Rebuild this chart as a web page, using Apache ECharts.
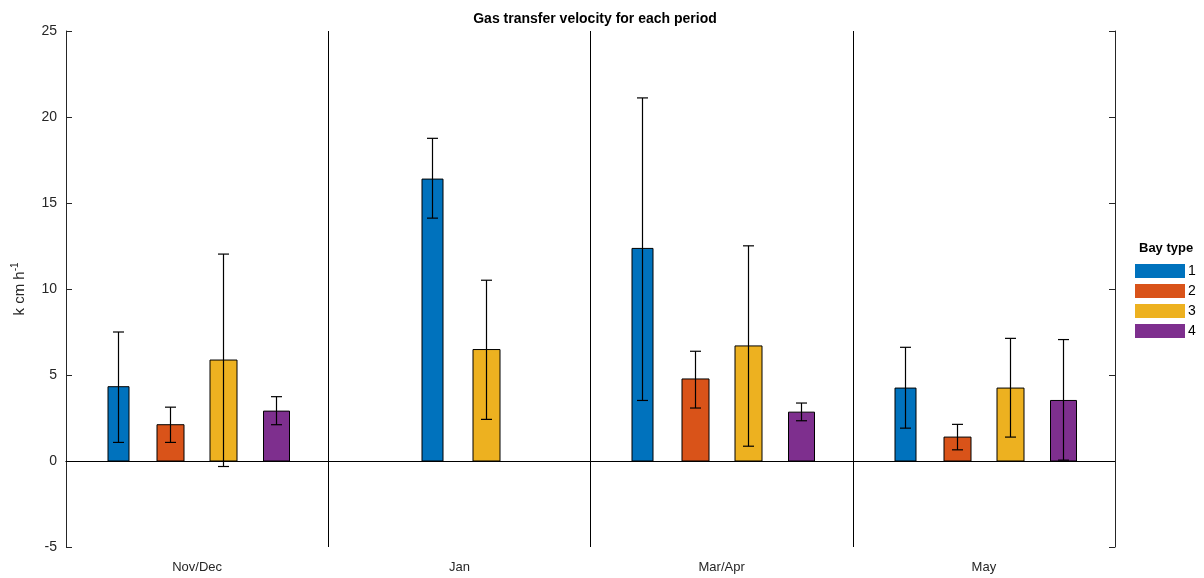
<!DOCTYPE html>
<html>
<head>
<meta charset="utf-8">
<script src="https://cdn.jsdelivr.net/npm/echarts@6/dist/echarts.min.js"></script>
<style>
  html, body { margin: 0; padding: 0; background: #fff; }
  #chart { width: 1204px; height: 578px; }
</style>
</head>
<body>
<div id="chart"></div>
<script>
// periods on the x axis
const periods = ['Nov/Dec', 'Jan', 'Mar/Apr', 'May']
const bayTypes = ['1', '2', '3', '4']

// mean k per bay type, one entry per period (null = no data)
const bay1 = [4.32, 16.39, 12.36, 4.24]
const bay2 = [2.11, null, 4.77, 1.39]
const bay3 = [5.87, 6.48, 6.69, 4.24]
const bay4 = [2.90, null, 2.84, 3.52]

// error bar bounds (lower / upper)
const bay1Low = [1.08, 14.12, 3.52, 1.91]
const bay1High = [7.50, 18.76, 21.11, 6.61]
const bay2Low = [1.08, null, 3.08, 0.65]
const bay2High = [3.13, null, 6.38, 2.13]
const bay3Low = [-0.32, 2.42, 0.86, 1.39]
const bay3High = [12.03, 10.51, 12.51, 7.13]
const bay4Low = [2.11, null, 2.34, 0.05]
const bay4High = [3.74, null, 3.37, 7.06]

const yTicks = [-5, 0, 5, 10, 15, 20, 25]

const colors = ['#0072BD', '#D95319', '#EDB120', '#7E2F8E']
const barWidths = [21, 27, 27, 26]
// slot offset (fraction of band) of each bay type in each period
const slots = [
  [-0.303, -0.104, 0.099, 0.301],
  [-0.104, null, 0.101, null],
  [-0.302, -0.102, 0.102, 0.301],
  [-0.300, -0.101, 0.101, 0.301]
]

const means = [bay1, bay2, bay3, bay4]
const lows = [bay1Low, bay2Low, bay3Low, bay4Low]
const highs = [bay1High, bay2High, bay3High, bay4High]

const axisColor = '#262626'

function makeSeries (s) {
  const data = []
  periods.forEach((p, i) => {
    if (means[s][i] != null) data.push([i, means[s][i], lows[s][i], highs[s][i]])
  })
  return {
    name: bayTypes[s],
    type: 'custom',
    itemStyle: { color: colors[s] },
    renderItem (params, api) {
      const cat = api.value(0)
      const base = api.coord([cat, 0])
      const top = api.coord([cat, api.value(1)])
      const lo = api.coord([cat, api.value(2)])
      const hi = api.coord([cat, api.value(3)])
      const band = api.size([1, 0])[0]
      const cx = Math.round(base[0] + slots[cat][s] * band) + 0.5
      const w = barWidths[s]
      const capW = 11
      const err = { stroke: '#000', lineWidth: 1.2 }
      return {
        type: 'group',
        children: [
          {
            type: 'rect',
            shape: { x: cx - w / 2, y: Math.min(top[1], base[1]), width: w, height: Math.abs(base[1] - top[1]) },
            style: { fill: colors[s], stroke: '#000', lineWidth: 1 }
          },
          { type: 'line', shape: { x1: cx, y1: lo[1], x2: cx, y2: hi[1] }, style: err },
          { type: 'line', shape: { x1: cx - capW / 2, y1: lo[1], x2: cx + capW / 2, y2: lo[1] }, style: err },
          { type: 'line', shape: { x1: cx - capW / 2, y1: hi[1], x2: cx + capW / 2, y2: hi[1] }, style: err }
        ]
      }
    },
    encode: { x: 0, y: 1 },
    data: data,
    z: 3
  }
}

const series = bayTypes.map((b, s) => makeSeries(s))
series[0].markLine = {
  silent: true,
  symbol: 'none',
  label: { show: false },
  lineStyle: { color: '#000', type: 'solid', width: 1 },
  data: [{ yAxis: 0 }],
  z: 4
}

const chart = echarts.init(document.getElementById('chart'))
chart.setOption({
  animation: false,
  textStyle: { fontFamily: 'Liberation Sans, Arial, sans-serif' },
  title: [
    {
      text: 'Gas transfer velocity for each period',
      left: 590,
      top: 7,
      textAlign: 'center',
      textStyle: { fontSize: 14, fontWeight: 'bold', color: '#000' }
    },
    {
      text: 'Bay type',
      left: 1134,
      top: 237,
      textStyle: { fontSize: 13, fontWeight: 'bold', color: '#000' }
    }
  ],
  legend: {
    orient: 'vertical',
    left: 1135,
    top: 264,
    padding: 0,
    itemWidth: 50,
    itemHeight: 14,
    itemGap: 6,
    icon: 'rect',
    data: bayTypes,
    itemStyle: { borderWidth: 0 },
    textStyle: { fontSize: 14, lineHeight: 14, color: '#000', padding: [0, 0, 0, -2] }
  },
  grid: { left: 66, right: 89, top: 31, bottom: 31 },
  xAxis: [
    {
      type: 'category',
      data: periods,
      position: 'bottom',
      axisLine: { lineStyle: { color: axisColor, width: 1 } },
      axisTick: { inside: true, alignWithLabel: true, length: 6, lineStyle: { color: axisColor } },
      axisLabel: { fontSize: 13, color: axisColor, margin: 14 },
      splitLine: { show: true, lineStyle: { color: '#000', width: 1 } }
    },
    {
      type: 'category',
      data: periods,
      position: 'top',
      axisLine: { lineStyle: { color: axisColor, width: 1 } },
      axisTick: { inside: true, alignWithLabel: true, length: 6, lineStyle: { color: axisColor } },
      axisLabel: { show: false },
      splitLine: { show: false }
    }
  ],
  yAxis: [
    {
      type: 'value',
      min: yTicks[0],
      max: yTicks[yTicks.length - 1],
      interval: 5,
      name: '{a|k cm h}{sup|-1}',
      nameLocation: 'middle',
      nameRotate: 90,
      nameGap: 37,
      nameTextStyle: {
        color: axisColor,
        rich: {
          a: { fontSize: 15, color: axisColor, lineHeight: 18 },
          sup: { fontSize: 10, color: axisColor, lineHeight: 18, padding: [0, 0, 9, 0] }
        }
      },
      axisLine: { show: true, lineStyle: { color: axisColor, width: 1 } },
      axisTick: { show: true, inside: true, length: 6, lineStyle: { color: axisColor } },
      axisLabel: { fontSize: 14, color: axisColor, margin: 9 },
      splitLine: { show: false }
    },
    {
      type: 'value',
      position: 'right',
      min: yTicks[0],
      max: yTicks[yTicks.length - 1],
      interval: 5,
      axisLine: { show: true, lineStyle: { color: axisColor, width: 1 } },
      axisTick: { show: true, inside: true, length: 6, lineStyle: { color: axisColor } },
      axisLabel: { show: false },
      splitLine: { show: false }
    }
  ],
  series: series
})
</script>
</body>
</html>
